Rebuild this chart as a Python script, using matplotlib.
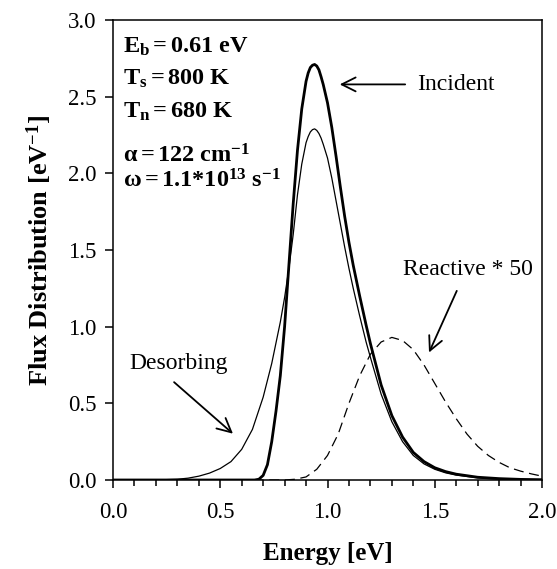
import matplotlib
matplotlib.use("Agg")
import matplotlib.pyplot as plt
import numpy as np

plt.rcParams['font.family'] = ['Liberation Serif', 'DejaVu Serif']
plt.rcParams['mathtext.fontset'] = 'custom'
plt.rcParams['mathtext.rm'] = 'Liberation Serif'
plt.rcParams['mathtext.it'] = 'Liberation Serif:italic'
plt.rcParams['mathtext.bf'] = 'Liberation Serif:bold'

# Incident (thick)
inc_E = [0.0, 0.60, 0.66, 0.68, 0.70, 0.72, 0.74, 0.76, 0.78, 0.80, 0.82, 0.84, 0.86,
         0.88, 0.90, 0.91, 0.92, 0.93, 0.94, 0.95, 0.96, 0.97, 0.98, 1.00, 1.02,
         1.04, 1.06, 1.08, 1.10, 1.12, 1.15, 1.18, 1.20, 1.25, 1.30, 1.35, 1.40,
         1.45, 1.50, 1.55, 1.60, 1.70, 1.80, 1.90, 2.00]
inc_F = [0.0, 0.0, 0.0, 0.005, 0.03, 0.10, 0.25, 0.45, 0.68, 1.00, 1.40, 1.80, 2.15,
         2.42, 2.60, 2.655, 2.69, 2.705, 2.71, 2.70, 2.675, 2.63, 2.58, 2.46, 2.30,
         2.11, 1.91, 1.72, 1.55, 1.40, 1.20, 1.01, 0.89, 0.62, 0.42, 0.28, 0.18,
         0.12, 0.08, 0.055, 0.038, 0.018, 0.009, 0.004, 0.002]

# Desorbing (thin)
des_E = [0.0, 0.20, 0.30, 0.35, 0.40, 0.45, 0.50, 0.55, 0.60, 0.65, 0.70, 0.74,
         0.78, 0.80, 0.82, 0.84, 0.86, 0.88, 0.90, 0.91, 0.92, 0.93, 0.94, 0.95,
         0.96, 0.97, 0.98, 1.00, 1.02, 1.04, 1.06, 1.08, 1.10, 1.12, 1.15, 1.18,
         1.20, 1.25, 1.30, 1.35, 1.40, 1.45, 1.50, 1.55, 1.60, 1.70, 1.80, 2.00]
des_F = [0.0, 0.0, 0.005, 0.012, 0.025, 0.045, 0.075, 0.12, 0.20, 0.33, 0.54, 0.76,
         1.03, 1.19, 1.38, 1.60, 1.86, 2.06, 2.20, 2.24, 2.27, 2.285, 2.29, 2.28,
         2.26, 2.23, 2.19, 2.10, 1.97, 1.82, 1.67, 1.52, 1.38, 1.25, 1.07, 0.90,
         0.80, 0.56, 0.38, 0.25, 0.16, 0.105, 0.07, 0.047, 0.032, 0.014, 0.006, 0.001]

# Reactive * 50 (dashed)
rea_E = [0.0, 0.80, 0.85, 0.90, 0.95, 1.00, 1.05, 1.10, 1.15, 1.20, 1.25, 1.30,
         1.35, 1.40, 1.45, 1.50, 1.55, 1.60, 1.65, 1.70, 1.75, 1.80, 1.85, 1.90,
         1.95, 2.00]
rea_F = [0.0, 0.0, 0.005, 0.02, 0.07, 0.16, 0.30, 0.50, 0.68, 0.82, 0.90, 0.93,
         0.91, 0.85, 0.75, 0.63, 0.51, 0.40, 0.30, 0.22, 0.16, 0.115, 0.08, 0.058,
         0.04, 0.025]

x_ticks = [0.0, 0.5, 1.0, 1.5, 2.0]
y_ticks = [0.0, 0.5, 1.0, 1.5, 2.0, 2.5, 3.0]

fig = plt.figure(figsize=(5.57, 5.69), dpi=100)
ax = fig.add_axes([113/557, 1-480/569, (542-113)/557, (480-20)/569])

ax.plot(des_E, des_F, color='black', lw=0.9)
ax.plot(inc_E, inc_F, color='black', lw=2.0)
ax.plot(rea_E, rea_F, color='black', lw=0.9, dashes=(8, 4.5))

ax.set_xlim(0, 2.0)
ax.set_ylim(0, 3.0)
ax.set_xticks(x_ticks)
ax.set_xticklabels([f"{v:.1f}" for v in x_ticks])
ax.set_yticks(y_ticks)
ax.set_yticklabels([f"{v:.1f}" for v in y_ticks])
ax.set_xticks(np.arange(0, 2.0001, 0.1), minor=True)
ax.tick_params(axis='both', which='major', direction='out', length=5.8, width=1.1,
               labelsize=16.5, top=False, right=False)
ax.tick_params(axis='x', which='minor', direction='out', length=4.3, width=1.1)
ax.tick_params(axis='x', which='major', pad=10)
ax.tick_params(axis='y', which='major', pad=6)
for s in ax.spines.values():
    s.set_linewidth(1.1)

ax.set_xlabel('Energy [eV]', fontsize=18, fontweight='bold', labelpad=14)
ax.set_ylabel(r'Flux Distribution [eV$^{\mathbf{-1}}$]', fontsize=19,
              fontweight='bold', labelpad=10)

params = [r'$\mathbf{E_b = 0.61\ eV}$',
          r'$\mathbf{T_s = 800\ K}$',
          r'$\mathbf{T_n = 680\ K}$',
          r'$\mathbf{α = 122\ cm^{-1}}$',
          r'$\mathbf{ω = 1.1{*}10^{13}\ s^{-1}}$']
ys = [2.79, 2.58, 2.36, 2.07, 1.91]
for t, yv in zip(params, ys):
    ax.text(0.047, yv, t, fontsize=17.5, ha='left', va='baseline')

arrow = dict(arrowstyle='->', color='black', lw=1.3, mutation_scale=25)
ax.annotate('', xy=(1.044, 2.58), xytext=(1.375, 2.58), arrowprops=arrow)
ax.text(1.42, 2.58, 'Incident', fontsize=17, ha='left', va='center')
ax.annotate('', xy=(0.569, 0.29), xytext=(0.275, 0.65), arrowprops=arrow)
ax.text(0.075, 0.76, 'Desorbing', fontsize=17, ha='left', va='center')
ax.annotate('', xy=(1.468, 0.815), xytext=(1.608, 1.25), arrowprops=arrow)
ax.text(1.352, 1.37, 'Reactive * 50', fontsize=17, ha='left', va='center')

fig.savefig('out.png', dpi=100)
